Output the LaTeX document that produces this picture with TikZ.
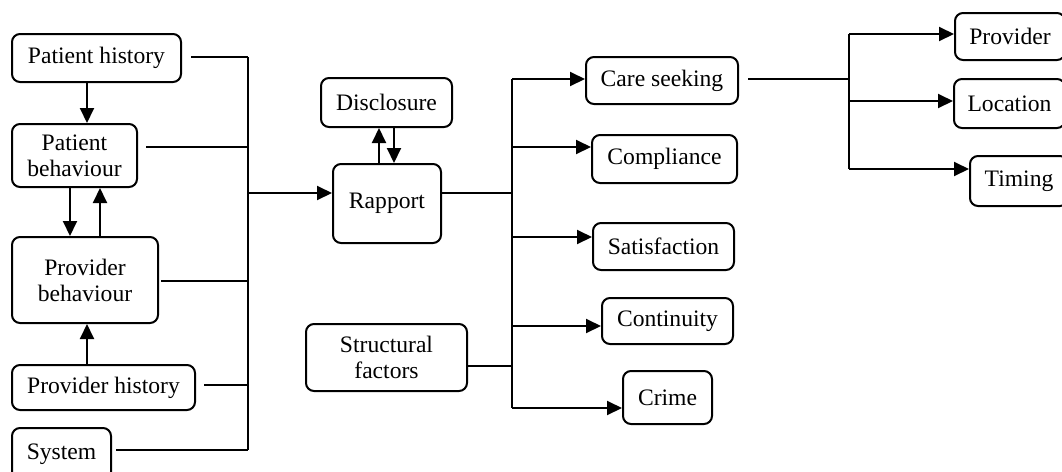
\documentclass[tikz,border=0pt]{standalone}
\usepackage{fontspec}
\setmainfont{Liberation Serif}
\usetikzlibrary{arrows.meta}
\newcommand\mybox[6]{\node[box,minimum width=#4*0.5pt,minimum height=#5*0.5pt] (#1) at (#2,#3) {#6};}
\begin{document}
\begin{tikzpicture}[x=0.5pt,y=-0.5pt,
 box/.style={draw, line width=1pt, rounded corners=4pt, inner sep=0pt, align=center, font=\fontsize{11.8}{13}\selectfont},
 ln/.style={line width=1pt},
 arr/.style={ln, -{Triangle[length=7.5pt,width=7pt]}},
]
\clip (0,0) rectangle (1062,472);
\fill[white] (0,0) rectangle (1062,472);
% boxes
\mybox{ph}{96.5}{58}{169}{48}{Patient history}
\mybox{pb}{74.5}{155.5}{125}{63}{Patient\\behaviour}
\mybox{prb}{85}{280}{146}{86}{Provider\\behaviour}
\mybox{prh}{103.5}{387.5}{183}{45}{Provider history}
\mybox{sys}{61.5}{454}{99}{52}{System}
\mybox{disc}{386.5}{102.5}{131}{49}{Disclosure}
\mybox{rap}{387}{203.5}{108}{79}{Rapport}
\mybox{sf}{386.5}{357.5}{161}{67}{Structural\\factors}
\mybox{cs}{662}{80.5}{152}{47}{Care seeking}
\mybox{comp}{664.5}{159}{145}{48}{Compliance}
\mybox{sat}{663.5}{246.5}{141}{47}{Satisfaction}
\mybox{cont}{667.5}{321}{131}{46}{Continuity}
\mybox{crime}{667.5}{397.5}{89}{53}{Crime}
\mybox{prov}{1010}{36.5}{110}{47}{Provider}
\mybox{loc}{1009.5}{103.5}{111}{49}{Location}
\mybox{tim}{1019}{181}{98}{50}{Timing}
% vertical arrows on the left
\coordinate (a1) at (87,0);
\coordinate (a2) at (70,0);
\coordinate (a3) at (100,0);
\coordinate (a4) at (87,0);
\draw[arr] (a1 |- ph.south) -- (a1 |- pb.north);
\draw[arr] (a2 |- pb.south) -- (a2 |- prb.north);
\draw[arr] (a3 |- prb.north) -- (a3 |- pb.south);
\draw[arr] (a4 |- prh.north) -- (a4 |- prb.south);
% left bus
\coordinate (L1) at (248,57);
\coordinate (L2) at (248,147);
\coordinate (L3) at (248,281);
\coordinate (L4) at (248,385);
\coordinate (L5) at (248,450);
\coordinate (Lin) at (248,193);
\draw[ln] (L1) -- (L5);
\draw[ln,shorten <=4.5pt] (L1 -| ph.east) -- (L1);
\draw[ln,shorten <=4pt] (L2 -| pb.east) -- (L2);
\draw[ln,shorten <=1pt] (L3 -| prb.east) -- (L3);
\draw[ln,shorten <=4pt] (L4 -| prh.east) -- (L4);
\draw[ln,shorten <=2pt] (L5 -| sys.east) -- (L5);
\draw[arr] (Lin) -- (Lin -| rap.west);
% disclosure arrows
\coordinate (d1) at (379,0);
\coordinate (d2) at (394,0);
\draw[arr] (d1 |- rap.north) -- (d1 |- disc.south);
\draw[arr] (d2 |- disc.south) -- (d2 |- rap.north);
% right bus
\coordinate (R0) at (512,193);
\coordinate (R1) at (512,79);
\coordinate (R2) at (512,147);
\coordinate (R3) at (512,237);
\coordinate (R4) at (512,326);
\coordinate (R5) at (512,408);
\coordinate (R6) at (512,366);
\draw[ln] (R1) -- (R5);
\draw[ln] (R0 -| rap.east) -- (R0);
\draw[ln] (R6 -| sf.east) -- (R6);
\draw[arr] (R1) -- (R1 -| cs.west);
\draw[arr] (R2) -- (R2 -| comp.west);
\draw[arr] (R3) -- (R3 -| sat.west);
\draw[arr] (R4) -- (R4 -| cont.west);
\draw[arr] (R5) -- (R5 -| crime.west);
% care seeking bus
\coordinate (C0) at (849,79);
\coordinate (C1) at (849,34);
\coordinate (C2) at (849,101);
\coordinate (C3) at (849,169);
\draw[ln,shorten <=4.5pt] (C0 -| cs.east) -- (C0);
\draw[ln] (C1) -- (C3);
\draw[arr] (C1) -- (C1 -| prov.west);
\draw[arr] (C2) -- (C2 -| loc.west);
\draw[arr] (C3) -- (C3 -| tim.west);
\end{tikzpicture}
\end{document}
